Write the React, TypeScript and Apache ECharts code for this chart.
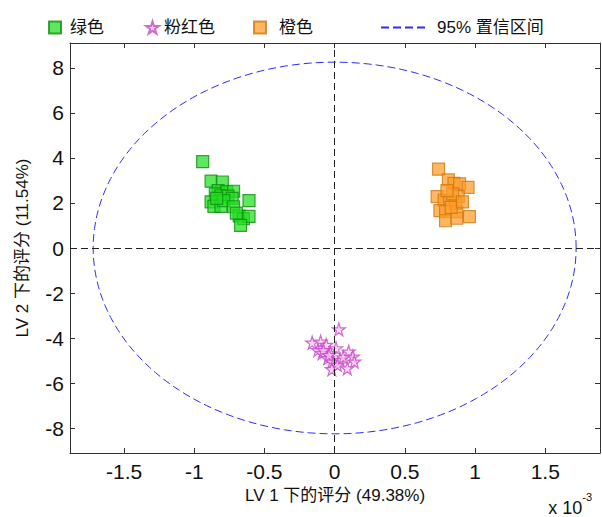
import React, { useEffect, useRef } from "react";
import * as echarts from "echarts";

// LV1 scores (x 10^-3) and LV2 scores
const GREEN: [number, number][] = [
  [-0.94, 3.83], [-0.88, 2.97], [-0.80, 2.93], [-0.83, 2.55], [-0.77, 2.50],
  [-0.72, 2.52], [-0.85, 2.40], [-0.81, 2.32], [-0.76, 2.30], [-0.73, 2.20],
  [-0.88, 2.05], [-0.86, 1.85], [-0.81, 1.85], [-0.79, 2.10], [-0.84, 2.20],
  [-0.72, 1.83], [-0.61, 2.10], [-0.68, 1.42], [-0.65, 1.30], [-0.61, 1.40],
  [-0.67, 1.00], [-0.70, 1.55],
];
const PINK: [number, number][] = [
  [0.03, -3.61], [-0.16, -4.20], [-0.10, -4.16], [-0.06, -4.30], [-0.12, -4.53],
  [-0.09, -4.67], [-0.03, -4.67], [0.01, -4.45], [-0.05, -4.89], [-0.02, -5.04],
  [0.04, -4.97], [0.10, -4.60], [0.13, -4.82], [0.14, -5.04], [0.09, -5.34],
  [-0.02, -5.38], [0.02, -5.19], [-0.08, -4.53], [-0.04, -4.75], [0.06, -4.85],
];
const ORANGE: [number, number][] = [
  [0.74, 3.50], [0.81, 3.02], [0.85, 2.87], [0.89, 2.85], [0.95, 2.69],
  [0.73, 2.28], [0.78, 2.13], [0.82, 2.10], [0.88, 2.28], [0.86, 1.98],
  [0.84, 2.40], [0.80, 2.55], [0.75, 1.66], [0.79, 1.61], [0.87, 1.61],
  [0.79, 1.21], [0.87, 1.32], [0.96, 1.39], [0.83, 1.80], [0.91, 2.05],
];
// 95% confidence ellipse semi-axes
const ELLIPSE_A = 1.72;
const ELLIPSE_B = 8.25;
const X_TICKS = [-1.5, -1, -0.5, 0, 0.5, 1, 1.5];
const Y_TICKS = [-8, -6, -4, -2, 0, 2, 4, 6, 8];
const NAMES = ["绿色", "粉红色", "橙色", "95% 置信区间"];

const STAR =
  "path://M50,0 L61,35 L98,35 L68,57 L79,91 L50,70 L21,91 L32,57 L2,35 L39,35 Z";

const FONT = "'Liberation Sans', Arial, 'Noto Sans CJK SC', sans-serif";

export default function App() {
  const ref = useRef<HTMLDivElement>(null);
  useEffect(() => {
    if (!ref.current) return;
    const chart = echarts.init(ref.current, undefined, { renderer: "svg" });
    const ellipse: [number, number][] = [];
    for (let i = 0; i <= 360; i += 2) {
      const t = (i * Math.PI) / 180;
      ellipse.push([ELLIPSE_A * Math.cos(t), ELLIPSE_B * Math.sin(t)]);
    }
    const axisLine = { show: true, onZero: false, lineStyle: { color: "#333", width: 1 } };
    const xBase = {
      type: "value" as const,
      min: -1.885,
      max: 1.89,
      splitLine: { show: false },
      axisLine,
    };
    const yBase = {
      type: "value" as const,
      min: -9.1,
      max: 9.1,
      splitLine: { show: false },
      axisLine,
    };
    const legendText = (pad: number) => ({
      fontSize: 17,
      color: "#111",
      fontFamily: FONT,
      padding: [0, 0, 0, pad],
    });
    chart.setOption({
      animation: false,
      textStyle: { fontFamily: FONT },
      grid: { left: 70, right: 2, top: 43, bottom: 64 },
      legend: [
        { data: [NAMES[0]], left: 43, top: 14, itemWidth: 12, itemHeight: 12, textStyle: legendText(4) },
        { data: [NAMES[1]], left: 140, top: 14, itemWidth: 13, itemHeight: 13, textStyle: legendText(0) },
        { data: [NAMES[2]], left: 248, top: 14, itemWidth: 12, itemHeight: 12, textStyle: legendText(8) },
        {
          data: [{ name: NAMES[3], itemStyle: { opacity: 0 } }],
          left: 375,
          top: 14,
          itemWidth: 47,
          itemHeight: 14,
          textStyle: legendText(4),
        },
      ],
      xAxis: [
        {
          ...xBase,
          position: "bottom",
          name: "LV 1 下的评分 (49.38%)",
          nameLocation: "middle",
          nameGap: 34,
          nameTextStyle: { fontSize: 17, color: "#111", fontFamily: FONT },
          axisTick: { show: true, inside: true, length: 5, customValues: X_TICKS, lineStyle: { color: "#333" } },
          axisLabel: { show: true, customValues: X_TICKS, fontSize: 21, color: "#111", margin: 8 },
        },
        {
          ...xBase,
          position: "top",
          axisTick: { show: true, inside: true, length: 5, customValues: X_TICKS, lineStyle: { color: "#333" } },
          axisLabel: { show: false },
        },
      ],
      yAxis: [
        {
          ...yBase,
          position: "left",
          name: "LV 2 下的评分 (11.54%)",
          nameLocation: "middle",
          nameGap: 39,
          nameTextStyle: { fontSize: 17, color: "#111", fontFamily: FONT },
          axisTick: { show: true, inside: true, length: 5, customValues: Y_TICKS, lineStyle: { color: "#333" } },
          axisLabel: { show: true, customValues: Y_TICKS, fontSize: 21, color: "#111", margin: 6 },
        },
        {
          ...yBase,
          position: "right",
          axisTick: { show: true, inside: true, length: 5, customValues: Y_TICKS, lineStyle: { color: "#333" } },
          axisLabel: { show: false },
        },
      ],
      graphic: [
        {
          type: "text",
          right: 10,
          top: 491,
          style: {
            text: "{a|x 10}{b|-3}",
            rich: {
              a: { fontSize: 18, fontFamily: FONT, fill: "#111", verticalAlign: "bottom", padding: [8, 0, 0, 0] },
              b: { fontSize: 11, fontFamily: FONT, fill: "#111", verticalAlign: "top" },
            },
          },
        },
      ],
      series: [
        {
          name: NAMES[3],
          type: "line",
          data: ellipse,
          symbol: "none",
          showSymbol: false,
          smooth: false,
          silent: true,
          lineStyle: { color: "#2d2dfa", width: 1, type: [8, 4] },
          itemStyle: { color: "#2d2dfa" },
          markLine: {
            symbol: "none",
            silent: true,
            label: { show: false },
            lineStyle: { type: [7, 4], color: "#222", width: 1 },
            data: [{ xAxis: 0 }, { yAxis: 0 }],
          },
          z: 1,
        },
        {
          name: NAMES[0],
          type: "scatter",
          data: GREEN,
          symbol: "rect",
          symbolSize: 12,
          itemStyle: { color: "rgba(34,222,34,0.9)", borderColor: "#0e8f0e", borderWidth: 1.2 },
          z: 3,
        },
        {
          name: NAMES[1],
          type: "scatter",
          data: PINK,
          symbol: STAR,
          symbolSize: 13,
          itemStyle: { color: "rgba(248,200,244,0.9)", borderColor: "#c64bc6", borderWidth: 1.2 },
          z: 3,
        },
        {
          name: NAMES[2],
          type: "scatter",
          data: ORANGE,
          symbol: "rect",
          symbolSize: 12,
          itemStyle: { color: "rgba(255,155,40,0.9)", borderColor: "#cc7a12", borderWidth: 1.2 },
          z: 3,
        },
      ],
    });
    return () => chart.dispose();
  }, []);
  return <div ref={ref} style={{ width: 602, height: 517, position: "absolute", left: 0, top: 0, background: "#fff" }} />;
}
